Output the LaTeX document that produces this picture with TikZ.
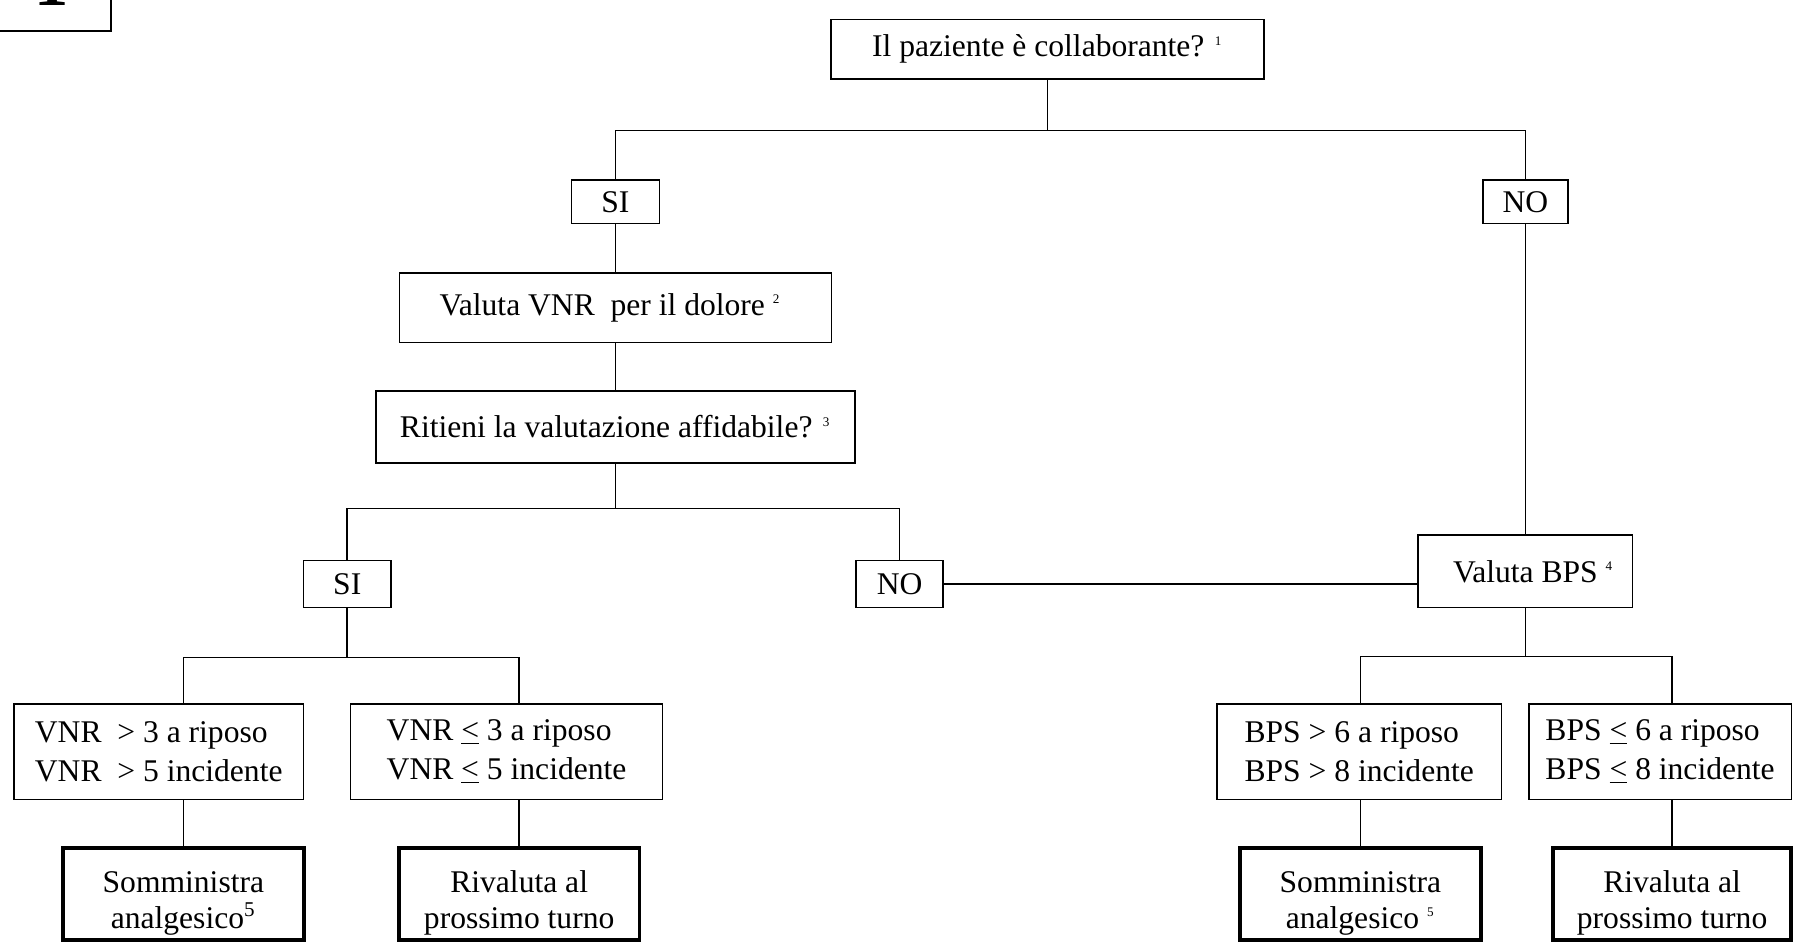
\documentclass[tikz,border=0pt]{standalone}
\usepackage{fontspec}
\setmainfont{Liberation Serif}
\usetikzlibrary{positioning}
\newlength\pu
\setlength\pu{0.0153cm}
\newcommand\nota[1]{\textsuperscript{\tiny #1}}
\newcommand\alto{\rule{0pt}{15pt}}

\begin{document}
\begin{tikzpicture}[x=0.0153cm,y=-0.0153cm,
    box/.style={draw, line width=0.6pt, align=center, inner sep=2pt, font=\fontsize{12}{14.8}\selectfont},
    endbox/.style={box, line width=1.5pt, font=\fontsize{12}{13.5}\selectfont},
    sz/.style 2 args={minimum width=#1*\pu, minimum height=#2*\pu},
    link/.style={line width=0.6pt}]
  \useasboundingbox (0,0) rectangle (1568,823);
  % page number box, cut by the page edge
  \begin{scope}
    \clip (0,0) rectangle (1568,823);
    \draw[link] (-10,-10) rectangle (97,27);
    \node[anchor=base, inner sep=0pt, font=\fontsize{26}{26}\selectfont\bfseries] (pag) at (45,4.4) {1};
  \end{scope}

  % collaborante
  \node[box, sz={378}{52}] (q1) at (914,43) {Il paziente è collaborante? \nota{1}};
  \node[box, sz={77}{38}] (si1) at (537,176) {SI};
  \node[box, sz={74}{38}] (no1) at (1331,176) {NO};
  \node[box, sz={377}{61}] (vnr) at (537,268.5) {Valuta VNR\ \ per il dolore \nota{2}\hspace{4pt}};
  \node[box, sz={418}{63}] (rit) at (537,372.5) {Ritieni la valutazione affidabile? \nota{3}};
  \node[box, sz={76}{41}] (si2) at (303,509.5) {SI};
  \node[box, sz={76}{41}] (no2) at (785,509.5) {NO};
  \node[box, sz={187}{63}] (bps) at (1331,498.5) {\ \ Valuta BPS \nota{4}};

  % soglie
  \node[box, sz={253}{83}, align=left] (c1) at (138.5,656) {VNR\ \ > 3 a riposo\\VNR\ \ > 5 incidente};
  \node[box, sz={272}{83}, align=left] (c2) at (442,656) {VNR \underline{<} 3 a riposo\\VNR \underline{<} 5 incidente};
  \node[box, sz={248}{83}, align=left] (c3) at (1186,656) {BPS > 6 a riposo\\BPS > 8 incidente};
  \node[box, sz={229}{83}, align=left] (c4) at (1448.5,656) {BPS \underline{<} 6 a riposo\\BPS \underline{<} 8 incidente};

  % azioni
  \node[endbox, sz={210}{80}] (e1) at (160,780) {\alto Somministra\\analgesico\textsuperscript{5}};
  \node[endbox, sz={210}{80}] (e2) at (453,780) {\alto Rivaluta al\\prossimo turno};
  \node[endbox, sz={210}{80}] (e3) at (1187,780) {\alto Somministra\\analgesico \nota{5}};
  \node[endbox, sz={208}{80}] (e4) at (1459,780) {\alto Rivaluta al\\prossimo turno};

  \draw[link] (q1.south) -- ++(0,44) coordinate (j1);
  \draw[link] (si1.north) |- (j1) -| (no1.north);
  \draw[link] (si1) -- (vnr);
  \draw[link] (vnr) -- (rit);
  \draw[link] (rit.south) -- ++(0,39) coordinate (j2);
  \draw[link] (si2.north) |- (j2) -| (no2.north);
  \draw[link] (no1) -- (bps);
  \draw[link] (no2.east) -- (no2.east -| bps.west);

  \draw[link] (si2.south) -- ++(0,43) coordinate (j3);
  \draw[link] (c1.north -| e1) |- (j3) -| (c2.north -| e2);
  \draw[link] (e1) -- (e1 |- c1.south);
  \draw[link] (e2) -- (e2 |- c2.south);

  \draw[link] (bps.south) -- ++(0,42) coordinate (j4);
  \draw[link] (c3.north -| e3) |- (j4) -| (c4.north -| e4);
  \draw[link] (e3) -- (e3 |- c3.south);
  \draw[link] (e4) -- (e4 |- c4.south);
\end{tikzpicture}
\end{document}
